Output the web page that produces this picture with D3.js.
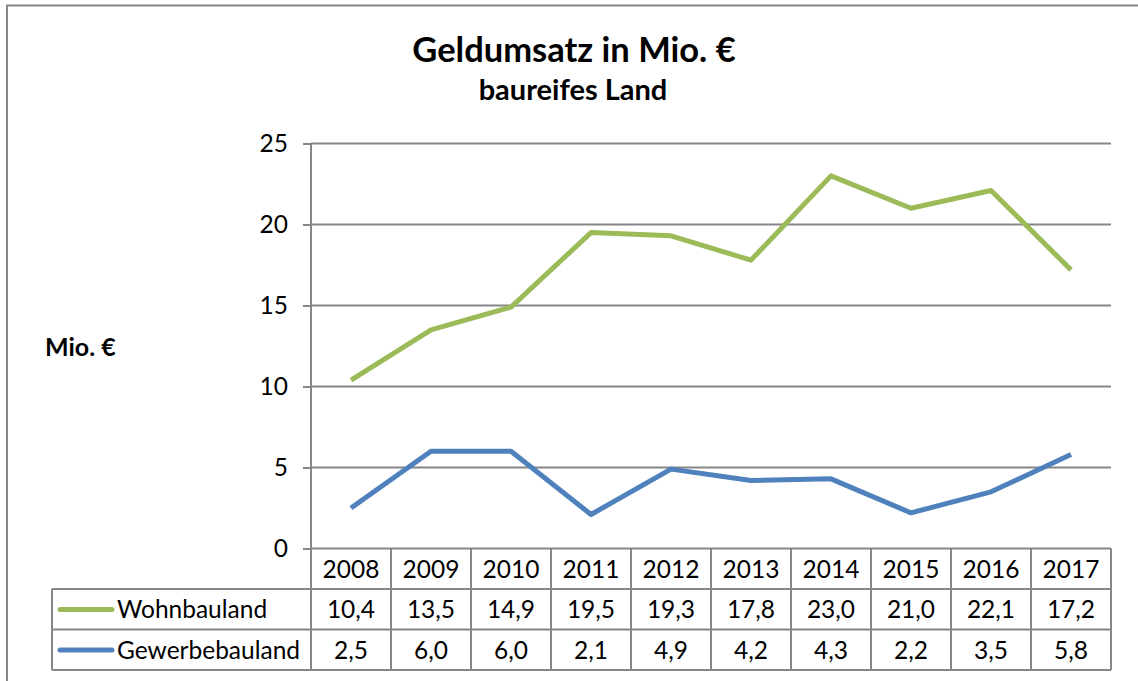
<!DOCTYPE html>
<html>
<head>
<meta charset="utf-8">
<script src="https://cdn.jsdelivr.net/npm/d3@7"></script>
<style>
  body { margin: 0; background: #fff; }
  svg { display: block; font-family: Lato, "Open Sans", sans-serif; }
</style>
</head>
<body>
<svg id="chart" width="1138" height="681"></svg>
<script>
const years = ["2008", "2009", "2010", "2011", "2012", "2013", "2014", "2015", "2016", "2017"];
const wohnbauland = [10.4, 13.5, 14.9, 19.5, 19.3, 17.8, 23.0, 21.0, 22.1, 17.2];
const gewerbebauland = [2.5, 6.0, 6.0, 2.1, 4.9, 4.2, 4.3, 2.2, 3.5, 5.8];
const yTicks = [0, 5, 10, 15, 20, 25];

const series = [
  { name: "Wohnbauland", values: wohnbauland, color: "#9bbb59" },
  { name: "Gewerbebauland", values: gewerbebauland, color: "#4f81bd" }
];

const svg = d3.select("#chart");
const plotLeft = 311, plotRight = 1111, plotTop = 143.5, plotBottom = 548.5;
const grey = "#868686";
const fmt = v => d3.format(".1f")(v).replace(".", ",");
const fs = 24.5;

// outer frame
svg.append("rect")
  .attr("x", 7).attr("y", 5.5).attr("width", 1140).attr("height", 700)
  .attr("fill", "none").attr("stroke", grey).attr("stroke-width", 2);

// titles
svg.append("text").attr("x", 574).attr("y", 62).attr("text-anchor", "middle")
  .attr("font-size", 34.5).attr("font-weight", "bold").text("Geldumsatz in Mio. €");
svg.append("text").attr("x", 573).attr("y", 100).attr("text-anchor", "middle")
  .attr("font-size", 29).attr("font-weight", "bold").text("baureifes Land");

let x = d3.scaleBand().domain(years).range([plotLeft, plotRight]);
let y = d3.scaleLinear().domain([0, 25]).range([plotBottom, plotTop]);

// gridlines + ticks
let yAxis = d3.axisLeft(y).tickValues(yTicks).tickSize(8).tickPadding(15);
let gy = svg.append("g").attr("transform", `translate(${plotLeft},0)`).call(yAxis);
gy.select(".domain").remove();
gy.selectAll(".tick line").attr("stroke", grey).attr("stroke-width", 2);
gy.selectAll(".tick text").attr("font-size", fs).attr("fill", "#000")
  .attr("font-family", "Lato, sans-serif");

svg.append("g").selectAll("line").data(yTicks).enter().append("line")
  .attr("x1", plotLeft).attr("x2", plotRight)
  .attr("y1", d => y(d)).attr("y2", d => y(d))
  .attr("stroke", grey).attr("stroke-width", 2);

svg.append("line").attr("x1", plotLeft).attr("x2", plotLeft).attr("y1", plotTop).attr("y2", plotBottom)
  .attr("stroke", grey).attr("stroke-width", 2);

svg.append("text").attr("x", 45).attr("y", 356).attr("font-size", 25)
  .attr("font-weight", "bold").text("Mio. €");

// lines
let line = d3.line()
  .x((d, i) => x(years[i]) + x.bandwidth() / 2)
  .y(d => y(d));

svg.append("g").selectAll("path").data(series).enter().append("path")
  .attr("d", d => line(d.values))
  .attr("fill", "none")
  .attr("stroke", d => d.color)
  .attr("stroke-width", 5)
  .attr("stroke-linejoin", "round");

// data table
const rowH = 40.5;
const tableLeft = 52;
const rows = [plotBottom, plotBottom + rowH, plotBottom + 2 * rowH, plotBottom + 3 * rowH];
let table = svg.append("g").attr("stroke", grey).attr("stroke-width", 2);

table.append("line").attr("x1", tableLeft).attr("x2", plotRight).attr("y1", rows[1]).attr("y2", rows[1]);
table.append("line").attr("x1", tableLeft).attr("x2", plotRight).attr("y1", rows[2]).attr("y2", rows[2]);
table.append("line").attr("x1", tableLeft).attr("x2", plotRight).attr("y1", rows[3]).attr("y2", rows[3]);
table.append("line").attr("x1", tableLeft).attr("x2", tableLeft).attr("y1", rows[1]).attr("y2", rows[3]);

let xEdges = years.map(yr => x(yr)).concat([plotRight]);
table.selectAll(".v").data(xEdges).enter().append("line")
  .attr("x1", d => d).attr("x2", d => d)
  .attr("y1", rows[0]).attr("y2", rows[3]);

let texts = svg.append("g").attr("font-size", fs).attr("fill", "#000").attr("text-anchor", "middle");
texts.selectAll(".yr").data(years).enter().append("text")
  .attr("x", d => x(d) + x.bandwidth() / 2).attr("y", rows[0] + 29).text(d => d);

series.forEach((s, si) => {
  let ry = rows[si + 1];
  texts.selectAll(".v" + si).data(s.values).enter().append("text")
    .attr("x", (d, i) => x(years[i]) + x.bandwidth() / 2).attr("y", ry + 29).text(d => fmt(d));
  svg.append("line").attr("x1", 60).attr("x2", 112).attr("y1", ry + 20.5).attr("y2", ry + 20.5)
    .attr("stroke", s.color).attr("stroke-width", 5).attr("stroke-linecap", "round");
  svg.append("text").attr("x", 117).attr("y", ry + 29).attr("font-size", fs).text(s.name);
});
</script>
</body>
</html>
